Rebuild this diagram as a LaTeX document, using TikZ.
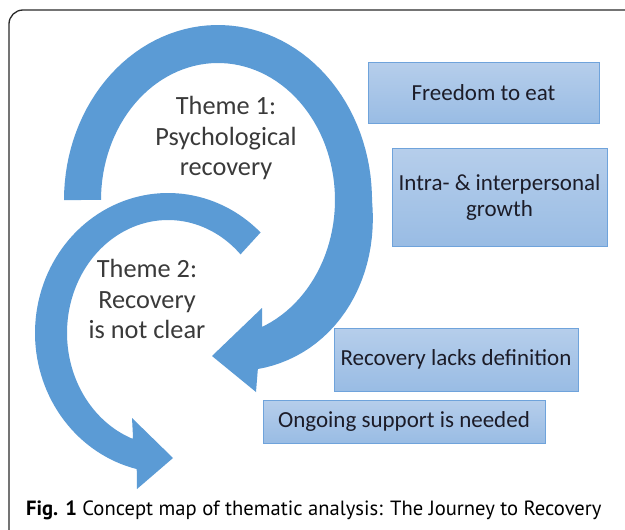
\documentclass[tikz,border=0pt]{standalone}
\usepackage{fontspec}
\setmainfont{Carlito}
\newfontfamily\capfont{PT Sans}
\begin{document}
\begin{tikzpicture}[x=1pt,y=-1pt,
  arrowfill/.style={fill=arrowblue},
  themetext/.style={align=center,inner sep=0pt,text=themegray,font=\fontsize{26.3}{30.5}\selectfont},
  subbox/.style={draw=boxedge,line width=0.9pt,top color=boxtop,bottom color=boxbot,
    inner sep=0pt,text=boxtext,align=center,font=\fontsize{23}{26}\selectfont},
]
\definecolor{arrowblue}{HTML}{5B9BD5}
\definecolor{boxtop}{HTML}{B6CEEB}
\definecolor{boxbot}{HTML}{99BCE4}
\definecolor{boxedge}{HTML}{6FA3DB}
\definecolor{boxtext}{HTML}{1C1C28}
\definecolor{themegray}{HTML}{3A3A3A}
\definecolor{framegray}{HTML}{2A2A2A}
\useasboundingbox (0,0) rectangle (625,530);
\clip (0,0) rectangle (625,530);
\fill[white] (0,0) rectangle (625,530);
% frame
\draw[framegray,line width=1.3pt,rounded corners=14pt] (9,10) rectangle (680,580);
% arrow 1 (Theme 1): outer edge, head, inner edge
\fill[arrowfill]
  plot[domain=180:435,samples=90,variable=\t]
    ({218+154*(1+0.045*(\t>360)*sin(2.4*(\t-360)))*cos(\t)},
     {200+175*(1+0.045*(\t>360)*sin(2.4*(\t-360)))*sin(\t)})
  -- (256,392) -- (212,356) -- (262,308) -- (262,330)
  -- plot[domain=428.4:180,samples=90,variable=\t]
    ({218+117*cos(\t)},{200+137*sin(\t)})
  -- cycle;
% arrow 2 (Theme 2)
\fill[arrowfill]
  plot[domain=314.1:103.6,samples=90,variable=\t]
    ({168+133*cos(\t)},{333+140*sin(\t)})
  -- (137,489) -- (173,458) -- (132,418) -- (133,437)
  -- plot[domain=110.6:315.9,samples=90,variable=\t]
    ({168+101*cos(\t)},{333+113*sin(\t)})
  -- cycle;
% theme texts
\node[themetext] (t1) at (226,138) {Theme 1:\\Psychological\\recovery};
\node[themetext] (t2) at (147,299) {Theme 2:\\Recovery\\is not clear};
% boxes
\node[subbox,minimum width=231pt,minimum height=61pt] (b1) at (483.5,92.5) {Freedom to eat};
\node[subbox,minimum width=215pt,minimum height=98pt] (b2) at (499.5,197) {Intra- \& interpersonal\\growth};
\node[subbox,minimum width=244pt,minimum height=63pt] (b3) at (456,359.5) {Recovery lacks definition};
\node[subbox,minimum width=282pt,minimum height=43pt] (b4) at (404,421.5) {Ongoing support is needed};
% caption
\node[anchor=west,inner sep=0pt,text=black,font=\capfont\fontsize{20.6}{24}\selectfont] (cap) at (26,510)
  {\textbf{Fig. 1} Concept map of thematic analysis: The Journey to Recovery};
\end{tikzpicture}
\end{document}
